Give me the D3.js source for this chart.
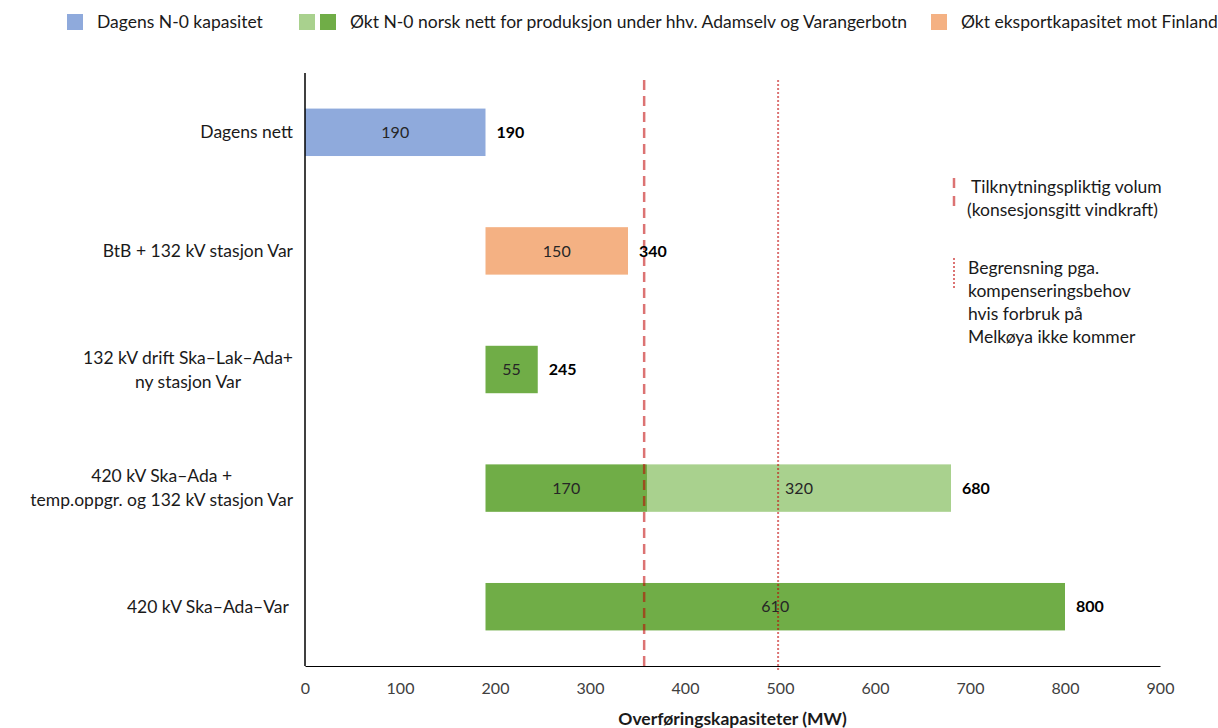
<!DOCTYPE html>
<html>
<head>
<meta charset="utf-8">
<script src="https://cdn.jsdelivr.net/npm/d3@7"></script>
<style>
  body { margin: 0; background: #fff; }
  svg { font-family: Lato, "Open Sans", sans-serif; }
</style>
</head>
<body>
<div id="container"></div>
<script>
// data
const categories = [
  "Dagens nett",
  "BtB + 132 kV stasjon Var",
  "132 kV drift Ska–Lak–Ada+\nny stasjon Var",
  "420 kV Ska–Ada +\ntemp.oppgr. og 132 kV stasjon Var",
  "420 kV Ska–Ada–Var "
];
const baseValues = [0, 190, 190, 190, 190];        // invisible offset
const dagensValues = [190, 0, 0, 0, 0];
const eksportValues = [0, 150, 0, 0, 0];
const greenValues = [0, 0, 55, 170, 610];
const lightGreenValues = [0, 0, 0, 320, 0];
const totals = [190, 340, 245, 680, 800];
const xTicks = [0, 100, 200, 300, 400, 500, 600, 700, 800, 900];
const tilknytning = 357;
const begrensning = 498;

const legendItems = [
  { label: "Dagens N-0 kapasitet", colors: ["#8FAADC"], x: 67 },
  { label: "Økt N-0 norsk nett for produksjon under hhv. Adamselv og Varangerbotn", colors: ["#A9D18E", "#70AD47"], x: 299 },
  { label: "Økt eksportkapasitet mot Finland", colors: ["#F4B183"], x: 931 }
];

const width = 1218, height = 728;
const margin = { left: 305, right: 58, top: 73, bottom: 62 };
const fs = 17.5;

const svg = d3.select("#container").append("svg")
  .attr("width", width).attr("height", height);

const x = d3.scaleLinear().domain([0, 900]).range([margin.left, width - margin.right]);
const y = d3.scaleBand().domain(categories)
  .range([margin.top, height - margin.bottom]).paddingInner(0.6).paddingOuter(0.3);

const keys = ["base", "dagens", "eksport", "green", "lightGreen"];
const colors = { base: "none", dagens: "#8FAADC", eksport: "#F4B183", green: "#70AD47", lightGreen: "#A9D18E" };
const rows = categories.map((c, i) => ({
  cat: c, base: baseValues[i], dagens: dagensValues[i], eksport: eksportValues[i],
  green: greenValues[i], lightGreen: lightGreenValues[i]
}));
const series = d3.stack().keys(keys)(rows);

// bars
series.filter(s => s.key !== "base").forEach(s => {
  const g = svg.append("g");
  const data = s.filter(d => d[1] - d[0] > 0);
  g.selectAll("rect").data(data).join("rect")
    .attr("x", d => x(d[0]))
    .attr("y", d => y(d.data.cat))
    .attr("width", d => x(d[1]) - x(d[0]))
    .attr("height", y.bandwidth())
    .attr("fill", colors[s.key]);
  g.selectAll("text").data(data).join("text")
    .attr("x", d => (x(d[0]) + x(d[1])) / 2)
    .attr("y", d => y(d.data.cat) + y.bandwidth() / 2)
    .attr("dy", "0.35em")
    .attr("text-anchor", "middle")
    .attr("font-size", 16)
    .attr("fill", "#262626")
    .text(d => d[1] - d[0]);
});

// axes
svg.append("line")
  .attr("x1", x(0)).attr("x2", x(0))
  .attr("y1", margin.top).attr("y2", height - margin.bottom)
  .attr("stroke", "#000").attr("stroke-width", 1.5);

const xAxis = svg.append("g")
  .attr("transform", `translate(0,${height - margin.bottom})`)
  .call(d3.axisBottom(x).tickValues(xTicks).tickSize(0).tickPadding(17));
xAxis.select(".domain").attr("stroke", "#000").attr("stroke-width", 1.2);
xAxis.selectAll("text").attr("font-size", 16).attr("fill", "#404040")
  .attr("font-family", "Lato, sans-serif");

svg.append("text")
  .attr("x", (x(0) + x(900)) / 2).attr("y", 725)
  .attr("text-anchor", "middle").attr("font-weight", "bold").attr("font-size", 17.5)
  .attr("fill", "#1a1a1a")
  .text("Overføringskapasiteter (MW)");

// reference lines
svg.append("line")
  .attr("x1", x(tilknytning)).attr("x2", x(tilknytning))
  .attr("y1", 80).attr("y2", 671)
  .attr("stroke", "#C00000").attr("stroke-opacity", 0.55)
  .attr("stroke-width", 2.5).attr("stroke-dasharray", "10,6");
svg.append("line")
  .attr("x1", x(begrensning)).attr("x2", x(begrensning))
  .attr("y1", 80).attr("y2", 671)
  .attr("stroke", "#C00000").attr("stroke-opacity", 0.55)
  .attr("stroke-width", 2).attr("stroke-dasharray", "2,2");

// total labels
svg.append("g").selectAll("text").data(categories).join("text")
  .attr("x", (c, i) => x(totals[i]) + 11)
  .attr("y", c => y(c) + y.bandwidth() / 2)
  .attr("dy", "0.35em")
  .attr("font-size", 16).attr("font-weight", "bold").attr("fill", "#000")
  .text((c, i) => totals[i]);

// category labels (multi-line, centred block, right-aligned to axis)
categories.forEach(c => {
  const lines = c.split("\n");
  const g = svg.append("g");
  const lh = 24;
  const cy = y(c) + y.bandwidth() / 2;
  const texts = lines.map((ln, j) => g.append("text")
    .attr("y", cy + (j - (lines.length - 1) / 2) * lh)
    .attr("dy", "0.35em")
    .attr("font-size", fs).attr("fill", "#1a1a1a")
    .style("white-space", "pre")
    .text(ln));
  const w = d3.max(texts, t => t.node().getComputedTextLength());
  texts.forEach(t => t.attr("x", 293 - w / 2).attr("text-anchor", "middle"));
});

// legend
legendItems.forEach(item => {
  const g = svg.append("g");
  item.colors.forEach((col, k) => {
    g.append("rect").attr("x", item.x + k * 21).attr("y", 14)
      .attr("width", 16).attr("height", 16).attr("fill", col);
  });
  g.append("text")
    .attr("x", item.x + (item.colors.length - 1) * 21 + 16 + 14)
    .attr("y", 22).attr("dy", "0.35em")
    .attr("font-size", fs).attr("fill", "#1a1a1a")
    .text(item.label);
});

// annotation on the right
const notes = [
  { lines: ["Tilknytningspliktig volum", "(konsesjonsgitt vindkraft)"], y: 187, dx: [971, 967] },
  { lines: ["Begrensning pga.", "kompenseringsbehov", "hvis forbruk på", "Melkøya ikke kommer"], y: 268, dx: [968, 968, 968, 968] }
];
notes.forEach((n, k) => {
  svg.append("line")
    .attr("x1", 954).attr("x2", 954)
    .attr("y1", k === 0 ? 178 : 258).attr("y2", k === 0 ? 211 : 290)
    .attr("stroke", "#C00000").attr("stroke-opacity", 0.55)
    .attr("stroke-width", k === 0 ? 2.5 : 2).attr("stroke-dasharray", k === 0 ? "10,8" : "2,2");
  n.lines.forEach((ln, j) => {
    svg.append("text")
      .attr("x", n.dx[j]).attr("y", n.y + j * 23).attr("dy", "0.35em")
      .attr("font-size", fs).attr("fill", "#1a1a1a")
      .text(ln);
  });
});
</script>
</body>
</html>
